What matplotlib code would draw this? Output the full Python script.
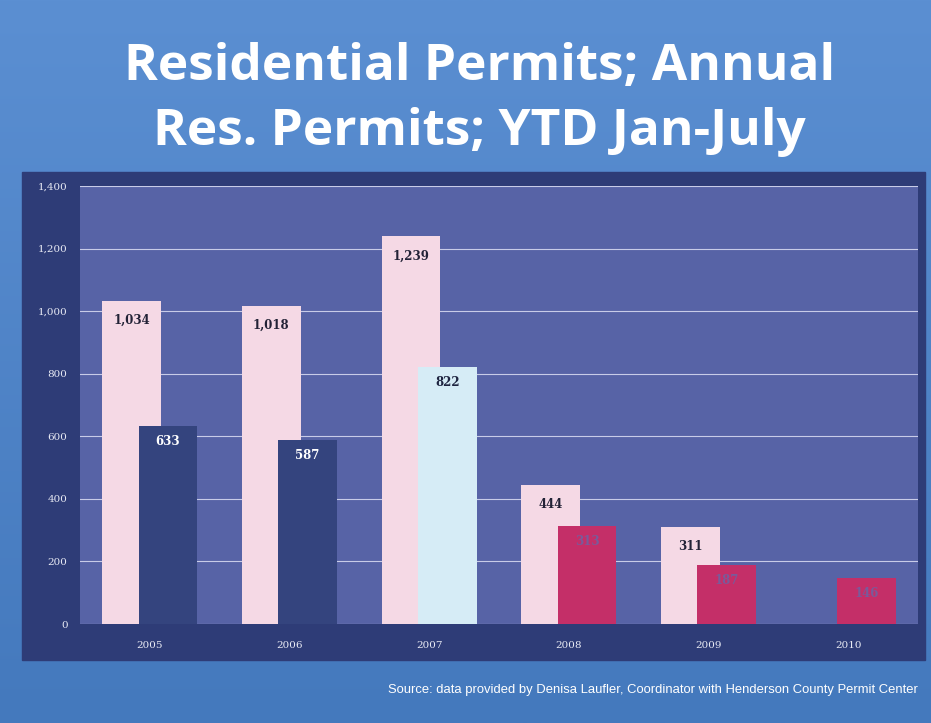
import matplotlib.pyplot as plt
import numpy as np
from matplotlib.patches import Rectangle
from matplotlib.colors import LinearSegmentedColormap

years = ['2005', '2006', '2007', '2008', '2009', '2010']
annual = [1034, 1018, 1239, 444, 311, None]
ytd = [633, 587, 822, 313, 187, 146]
ytd_colors = ['#34447e', '#34447e', '#d6ecf6', '#c42f68', '#c42f68', '#c42f68']
ytd_text = ['white', 'white', '#1e2440', '#7a5a9a', '#7a5a9a', '#7a5a9a']
yticks = [0, 200, 400, 600, 800, 1000, 1200, 1400]

fig = plt.figure(figsize=(9.31, 7.23), dpi=100)

# Bakgrunn med svak gradient
bg = fig.add_axes([0, 0, 1, 1])
grad = np.linspace(0, 1, 256).reshape(-1, 1)
cmap = LinearSegmentedColormap.from_list('bg', ['#5b8fd2', '#4479bd'])
bg.imshow(grad, aspect='auto', cmap=cmap, extent=[0, 1, 0, 1])
bg.set_xlim(0, 1)
bg.set_ylim(0, 1)
bg.axis('off')

# Mørkt panel bak diagrammet
bg.add_patch(Rectangle((0.0236, 0.087), 0.970, 0.675, color='#2e3c77', zorder=2))

# Tittel
title_kw = dict(color='white', fontsize=37, fontweight='bold', ha='center',
                va='center', family='Open Sans', zorder=3)
bg.text(0.515, 0.907, 'Residential Permits; Annual', **title_kw)
bg.text(0.515, 0.817, 'Res. Permits; YTD Jan-July', **title_kw)

# Kilde
bg.text(0.986, 0.046,
        'Source: data provided by Denisa Laufler, Coordinator with Henderson County Permit Center',
        color='white', fontsize=9.4, ha='right', va='center', family='Liberation Sans', zorder=3)

ax = fig.add_axes([80 / 931, 99 / 723, 838 / 931, 438 / 723])
ax.set_facecolor('#5763a6')
x = np.arange(len(years))
w = 0.42

for i in range(len(years)):
    if annual[i] is not None:
        ax.bar(x[i] - 0.13, annual[i], w, color='#f5d9e5', zorder=2)
        ax.annotate(f'{annual[i]:,}', (x[i] - 0.13, annual[i]), xytext=(0, -14),
                    textcoords='offset points', ha='center', va='center',
                    fontsize=8.5, fontweight='bold', family='DejaVu Serif',
                    color='#222236', zorder=4)
    ax.bar(x[i] + 0.13, ytd[i], w, color=ytd_colors[i], zorder=3)
    ax.annotate(f'{ytd[i]:,}', (x[i] + 0.13, ytd[i]), xytext=(0, -11),
                textcoords='offset points', ha='center', va='center',
                fontsize=8.5, fontweight='bold', family='DejaVu Serif',
                color=ytd_text[i], zorder=4)

ax.set_xlim(-0.5, 5.5)
ax.set_ylim(0, 1400)
ax.set_yticks(yticks)
ax.set_yticklabels([f'{v:,}' for v in yticks], family='DejaVu Serif', fontsize=7.5, color='#e8eaf4')
ax.set_xticks(x)
ax.set_xticklabels(years, family='DejaVu Serif', fontsize=7.5, color='#e8eaf4')
ax.tick_params(length=0, pad=12)
ax.tick_params(axis='y', pad=9)
ax.grid(True, axis='y', color='#c8cce8', linewidth=0.8, zorder=1)
for s in ax.spines.values():
    s.set_visible(False)

fig.savefig('out.png', dpi=100)
